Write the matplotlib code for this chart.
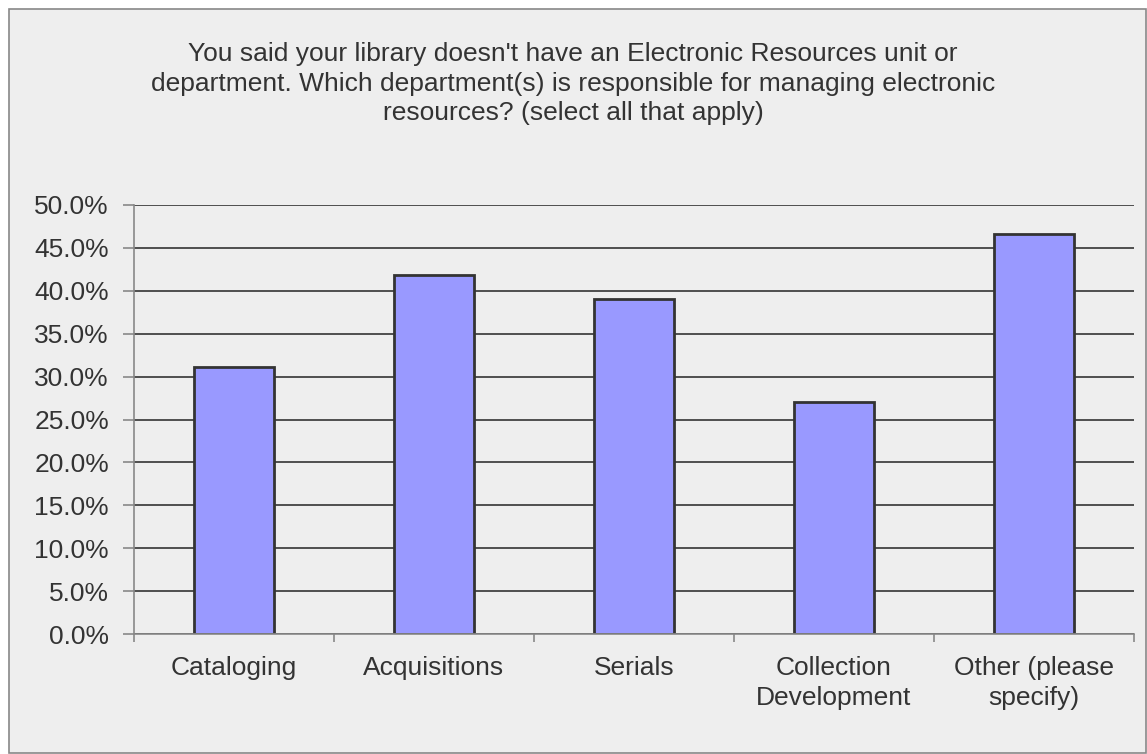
import numpy as np
import matplotlib
matplotlib.use("Agg")
import matplotlib.pyplot as plt
from matplotlib import patches
from matplotlib.ticker import FuncFormatter, MultipleLocator

# survey answers, share of respondents (%)
categories = ["Cataloging", "Acquisitions", "Serials",
              "Collection\nDevelopment", "Other (please\nspecify)"]
values = [31.1, 41.8, 39.1, 27.0, 46.6]
title = ("You said your library doesn't have an Electronic Resources unit or\n"
         "department. Which department(s) is responsible for managing electronic\n"
         "resources? (select all that apply)")

plt.rcParams['font.family'] = ['Liberation Sans', 'DejaVu Sans']

bg = '#eeeeee'
bar_color = '#9999ff'
txt = '#333333'

W, H = 1147, 754
fig = plt.figure(figsize=(W/100, H/100), dpi=100, facecolor='white')
# grey framed panel behind everything
fig.patches.append(patches.Rectangle((9/W, 1/H), (W-10)/W, (H-10)/H,
                                     transform=fig.transFigure, facecolor=bg,
                                     edgecolor='#888888', linewidth=1.2,
                                     zorder=-10))

ax = fig.add_axes([134/W, 1-634/H, 1000/W, 429/H])
ax.set_facecolor(bg)

x = np.arange(len(categories))
ax.bar(x, values, width=0.4, color=bar_color, edgecolor='#333333',
       linewidth=2, zorder=3)

ax.set_xlim(-0.5, len(categories)-0.5)
ax.set_ylim(0, 50)
ax.yaxis.set_major_locator(MultipleLocator(5))
ax.yaxis.set_major_formatter(FuncFormatter(lambda v, p: f"{v:.1f}%"))
ax.grid(axis='y', color='#333333', linewidth=1.2, zorder=1)

ax.set_xticks(x)
ax.set_xticklabels(categories, fontsize=19, color=txt, linespacing=1.3)
ax.set_xticks(np.arange(len(categories)+1)-0.5, minor=True)
ax.tick_params(axis='x', which='major', length=0, pad=16)
ax.tick_params(axis='x', which='minor', length=6, color='#888888', width=1.2)
ax.tick_params(axis='y', length=8, color='#888888', width=1.2,
               labelsize=19, labelcolor=txt, pad=10)

for s in ['top', 'right']:
    ax.spines[s].set_visible(False)
for s in ['left', 'bottom']:
    ax.spines[s].set_color('#888888')
    ax.spines[s].set_linewidth(1.2)
    ax.spines[s].set_zorder(4)

fig.text(573/W, 1-42/H, title, ha='center', va='top', fontsize=19,
         color=txt, linespacing=1.3)

fig.savefig("out.png", dpi=100, facecolor='white')
